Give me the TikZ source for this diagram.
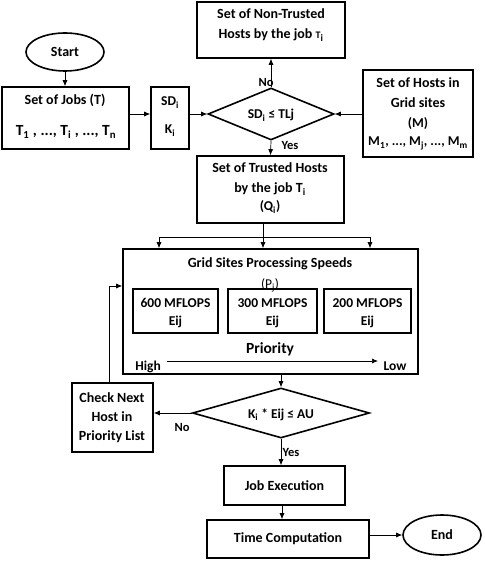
\documentclass[tikz,border=0pt]{standalone}
\usepackage{fontspec}
\setmainfont{Carlito}
\usetikzlibrary{shapes.geometric,arrows.meta}
\newcommand{\sbs}[1]{\textsubscript{#1}}
\begin{document}
\begin{tikzpicture}[x=1pt,y=-1pt,
  font=\bfseries\fontsize{14}{16}\selectfont,
  box/.style={draw,line width=1.6pt,inner sep=0pt},
  term/.style={draw,ellipse,line width=1.6pt,inner sep=0pt},
  dia/.style={draw,diamond,line width=1.6pt,inner sep=0pt,aspect=2.5},
  conn/.style={line width=0.7pt,-{Latex[length=6pt,width=5pt]}},
  plain/.style={line width=0.7pt},
  txt/.style={inner sep=0pt,anchor=base},
  small/.style={txt,font=\bfseries\fontsize{13.5}{15}\selectfont},
  lab/.style={txt,font=\bfseries\fontsize{12.5}{14}\selectfont},
  big/.style={txt,font=\bfseries\fontsize{15.5}{17}\selectfont}]
\useasboundingbox (0,0) rectangle (484,561);

% shapes
\node[term,minimum width=78,minimum height=38] (start) at (65,52) {Start};
\node[box,minimum width=127,minimum height=62] (jobs) at (65.5,118) {};
\node[txt] (jobs1) at (65,105) {Set of Jobs (T)};
\node[big] (jobs2) at (66,136) {T\sbs{1} , ..., T\sbs{i} , ..., T\sbs{n}};
\node[box,minimum width=38,minimum height=62] (sdk) at (170,118) {};
\node[small] (sdk1) at (170,106) {SD\sbs{i}};
\node[small] (sdk2) at (170,134) {K\sbs{i}};
\node[dia,minimum width=126,minimum height=52] (d1) at (271,114) {};
\node[small] (d1t) at (271,119) {SD\sbs{i} ≤ TLj};
\node[box,minimum width=148,minimum height=56] (nontr) at (271,30) {};
\node[txt] (nontr1) at (271,19) {Set of Non-Trusted};
\node[txt] (nontr2) at (271,39) {Hosts by the job {\fontsize{10}{12}\selectfont T}\sbs{i}};
\node[box,minimum width=110,minimum height=87] (hosts) at (418,113.5) {};
\node[txt] (hosts1) at (418,88) {Set of Hosts in};
\node[txt] (hosts2) at (418,108) {Grid sites};
\node[small] (hosts3) at (418,128) {(M)};
\node[small] (hosts4) at (418,146) {M\sbs{1}, ..., M\sbs{j}, ..., M\sbs{m}};
\node[box,minimum width=147,minimum height=67] (trusted) at (270.5,189.5) {};
\node[txt] (tr1) at (270,173) {Set of Trusted Hosts};
\node[txt] (tr2) at (270,193) {by the job T\sbs{i}};
\node[small] (tr3) at (270,211) {(Q\sbs{i})};
\node[box,minimum width=295,minimum height=125] (grid) at (270.5,311.5) {};
\node[txt] (g1) at (270,267) {Grid Sites Processing Speeds};
\node[txt,font=\fontsize{13.5}{15}\selectfont] (g2) at (270,288) {(P\sbs{j})};
\node[box,minimum width=85,minimum height=44] (b1) at (175.5,311) {};
\node[box,minimum width=89,minimum height=44] (b2) at (272.5,311) {};
\node[box,minimum width=87,minimum height=44] (b3) at (367.5,311) {};
\node[small] (b1a) at (175.5,307) {600 MFLOPS};
\node[small] (b1b) at (175.5,325) {Eij};
\node[small] (b2a) at (272.5,307) {300 MFLOPS};
\node[small] (b2b) at (272.5,325) {Eij};
\node[small] (b3a) at (367.5,307) {200 MFLOPS};
\node[small] (b3b) at (367.5,325) {Eij};
\node[big] (prio) at (270,353) {Priority};
\node[small] (high) at (148,370) {High};
\node[small] (low) at (395,370) {Low};
\coordinate (ha) at (167,361);
\coordinate (hb) at (378,361);
\draw[conn] (ha) -- (hb);
\node[dia,minimum width=177,minimum height=50] (d2) at (281,413) {};
\node[small] (d2t) at (281,418) {K\sbs{i} * Eij ≤ AU};
\node[box,minimum width=81,minimum height=69] (check) at (112.5,417.5) {};
\node[txt] (c1) at (112,402) {Check Next};
\node[txt] (c2) at (112,421) {Host in};
\node[txt] (c3) at (112,440) {Priority List};
\node[box,minimum width=121,minimum height=39] (jobex) at (284.5,485.5) {Job Execution};
\node[box,minimum width=162,minimum height=38] (timec) at (288,539) {Time Computation};
\node[term,minimum width=78,minimum height=40] (end) at (442,535) {End};

% connectors
\draw[conn] (start.south) -- (start.south |- jobs.north);
\draw[conn] (jobs.east |- d1) -- (sdk.west |- d1);
\draw[conn] (sdk.east |- d1) -- (d1.west);
\draw[conn] (hosts.west |- d1) -- (d1.east);
\draw[conn] (d1.north) -- (nontr.south);
\node[lab] (no1) at (266,87) {No};
\draw[conn] (d1.south) -- (trusted.north);
\node[lab] (yes1) at (290,150) {Yes};
\coordinate (split) at (263,237);
\coordinate (sl) at (159,237);
\coordinate (sr) at (370,237);
\draw[plain] (263,223) -- (split);
\draw[plain] (sl) -- (sr);
\draw[conn] (sl) -- (sl |- grid.north);
\draw[conn] (split) -- (split |- grid.north);
\draw[conn] (sr) -- (sr |- grid.north);
\coordinate (gs) at (281,374);
\draw[conn] (gs) -- (d2.north);
\draw[conn] (d2.west) -- (check.east |- d2);
\node[lab] (no2) at (182,431) {No};
\coordinate (fb) at (109,286);
\draw[conn] (check.north -| fb) -- (fb) -- (fb -| grid.west);
\draw[conn] (d2.south) -- (d2.south |- jobex.north);
\node[lab] (yes2) at (291,456) {Yes};
\coordinate (je) at (282,505);
\draw[conn] (je) -- (je |- timec.north);
\draw[conn] (timec.east |- end) -- (end.west);
\end{tikzpicture}
\end{document}
